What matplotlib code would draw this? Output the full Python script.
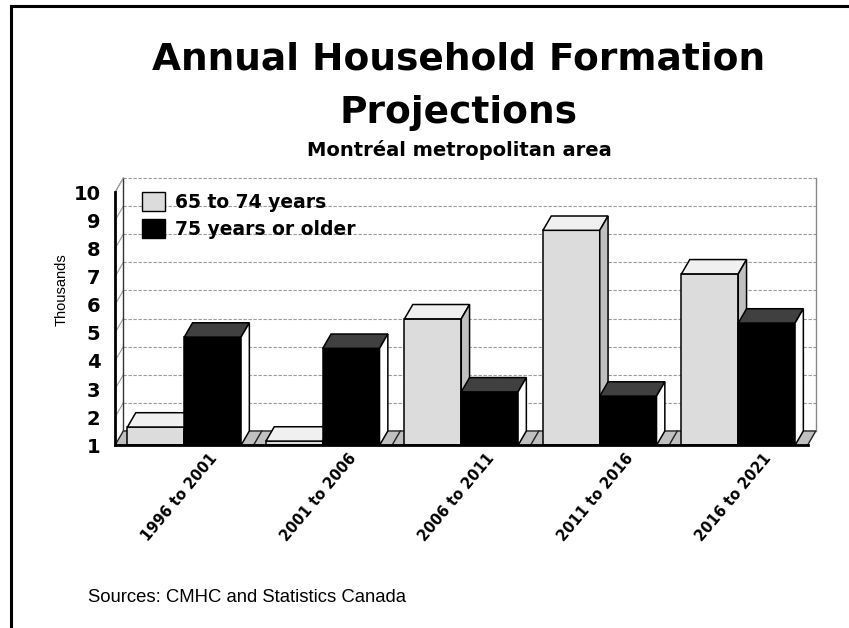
import matplotlib
matplotlib.use('Agg')
import matplotlib.pyplot as plt
from matplotlib.patches import Polygon, Patch

periods = ['1996 to 2001', '2001 to 2006', '2006 to 2011', '2011 to 2016', '2016 to 2021']
age_65_74 = [1.65, 1.15, 5.5, 8.65, 7.1]
age_75_plus = [4.85, 4.45, 2.9, 2.75, 5.35]
series_names = ['65 to 74 years', '75 years or older']
yticks = list(range(1, 11))

# face colours: front, top, side
light = ('#dcdcdc', '#f0f0f0', '#c0c0c0')
dark = ('#000000', '#404040', '#ffffff')

W, H = 849, 628
fig = plt.figure(figsize=(W / 100, H / 100), dpi=100)
ax = fig.add_axes([115 / W, 1 - 445.3 / H, 692.5 / W, 252.9 / H])
ax.set_xlim(0, len(periods))
ax.set_ylim(1, 10)
for s in ax.spines.values():
    s.set_visible(False)
ax.set_xticks([])
ax.set_yticks(yticks)
ax.set_yticklabels([str(t) for t in yticks], fontsize=14, fontweight='bold')
ax.tick_params(axis='y', length=0, pad=10.5)

dx, dy = 0.06, 0.51  # depth of the 3d look, in data units
n = len(periods)

# back wall grid and left wall
for v in yticks[1:]:
    ax.plot([dx, n + dx], [v + dy, v + dy], color='#9a9a9a', ls=(0, (3, 1.5)), lw=0.8,
            clip_on=False, zorder=1)
    ax.plot([0, dx], [v, v + dy], color='#9a9a9a', lw=0.8, clip_on=False, zorder=1)
ax.plot([dx, dx], [1 + dy, 10 + dy], color='#333333', lw=1, clip_on=False, zorder=1)
ax.plot([n + dx, n + dx], [1 + dy, 10 + dy], color='#888888', lw=1, clip_on=False, zorder=1)

# floor
ax.add_patch(Polygon([(0, 1), (n, 1), (n + dx, 1 + dy), (dx, 1 + dy)], closed=True,
                     fc='#c0c0c0', ec='#222222', lw=1, clip_on=False, zorder=2))
for k in range(1, n):
    ax.plot([k, k + dx], [1, 1 + dy], color='#222222', lw=1, clip_on=False, zorder=2)


def bar3d(x0, w, top, cols):
    front = [(x0, 1), (x0 + w, 1), (x0 + w, top), (x0, top)]
    topf = [(x0, top), (x0 + w, top), (x0 + w + dx, top + dy), (x0 + dx, top + dy)]
    side = [(x0 + w, 1), (x0 + w + dx, 1 + dy), (x0 + w + dx, top + dy), (x0 + w, top)]
    for pts, c in zip([front, topf, side], cols):
        ax.add_patch(Polygon(pts, closed=True, fc=c, ec='black', lw=1.1,
                             clip_on=False, zorder=3))


bw = 0.41
for i in range(n):
    bar3d(i + 0.09, bw, age_65_74[i], light)
    bar3d(i + 0.09 + bw, bw, age_75_plus[i], dark)

# front axis lines
ax.plot([0, 0], [1, 10], color='black', lw=2, clip_on=False, zorder=4)
ax.plot([0, dx], [10, 10 + dy], color='#9a9a9a', lw=0.8, clip_on=False, zorder=1)
ax.plot([0, n], [1, 1], color='black', lw=2, clip_on=False, zorder=4)

for i, p in enumerate(periods):
    ax.text(i + 0.72, 0.63, p, rotation=50, rotation_mode='anchor', ha='right', va='center',
            fontsize=10.5, fontweight='bold')

handles = [Patch(fc=light[0], ec='black', lw=1), Patch(fc='black', ec='black', lw=1)]
fig.legend(handles, series_names, loc='upper left', bbox_to_anchor=(142 / W, 1 - 192 / H),
           bbox_transform=fig.transFigure, frameon=False, prop={'weight': 'bold', 'size': 13.5},
           handlelength=1.2, handleheight=1.15, handletextpad=0.55, labelspacing=0.4,
           borderpad=0, borderaxespad=0)

# titles and notes
fig.text(459 / W, 1 - 69.5 / H, 'Annual Household Formation', ha='center', va='baseline',
         fontsize=27, fontweight='bold')
fig.text(459 / W, 1 - 122.7 / H, 'Projections', ha='center', va='baseline',
         fontsize=27, fontweight='bold')
fig.text(459 / W, 1 - 155.5 / H, 'Montréal metropolitan area', ha='center', va='baseline',
         fontsize=14, fontweight='bold')
fig.text(62 / W, 1 - 290 / H, 'Thousands', rotation=90, ha='center', va='center',
         fontsize=10.5, family=['Liberation Sans Narrow', 'Liberation Sans'])
fig.text(88 / W, 1 - 597 / H, 'Sources: CMHC and Statistics Canada', ha='left', va='center',
         fontsize=13.3, family=['Liberation Sans Narrow', 'Liberation Sans'])

# page frame: top and left edges only
fig.add_artist(plt.Line2D([10.5 / W, 1], [1 - 5.7 / H, 1 - 5.7 / H], color='black', lw=2.2,
                          transform=fig.transFigure))
fig.add_artist(plt.Line2D([10.5 / W, 10.5 / W], [0, 1 - 5.7 / H], color='black', lw=2.2,
                          transform=fig.transFigure))

fig.savefig('out.png', dpi=100)
